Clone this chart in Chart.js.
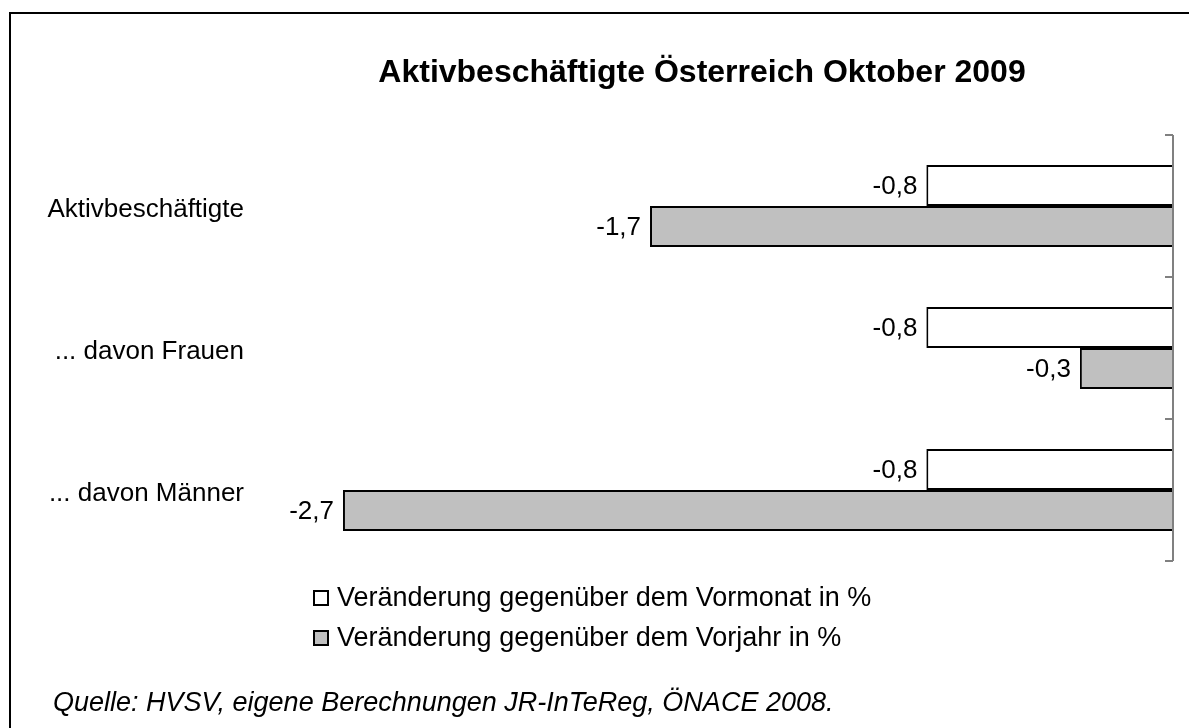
<!DOCTYPE html>
<html>
<head>
<meta charset="utf-8">
<script src="https://cdn.jsdelivr.net/npm/chart.js@4"></script>
<style>
  body { margin: 0; background: #fff; }
  canvas { display: block; }
</style>
</head>
<body>
<canvas id="chart" width="1189" height="728"></canvas>
<script>
// Chart data
const titleText = "Aktivbeschäftigte Österreich Oktober 2009";
const sourceText = "Quelle: HVSV, eigene Berechnungen JR-InTeReg, ÖNACE 2008.";
const categories = ["Aktivbeschäftigte", "... davon Frauen", "... davon Männer"];
const seriesNames = ["Veränderung gegenüber dem Vormonat in %", "Veränderung gegenüber dem Vorjahr in %"];
const vormonat = [-0.8, -0.8, -0.8];
const vorjahr = [-1.7, -0.3, -2.7];

const FONT = "'Liberation Sans', Arial, sans-serif";

// format like "-0,8"
function fmt(v) {
    return v.toFixed(1).replace(".", ",");
}

// draws frame, title, right axis, value labels, legend and source
const extras = {
    id: "extras",
    beforeDraw(chart) {
        const ctx = chart.ctx;
        ctx.save();
        ctx.strokeStyle = "#000";
        ctx.lineWidth = 2;
        ctx.beginPath();
        ctx.moveTo(chart.width, 13);
        ctx.lineTo(10, 13);
        ctx.lineTo(10, chart.height);
        ctx.stroke();
        ctx.restore();
    },
    afterDraw(chart) {
        const ctx = chart.ctx;
        const area = chart.chartArea;
        const y = chart.scales.y;
        ctx.save();

        // title
        ctx.fillStyle = "#000";
        ctx.font = "bold 32px " + FONT;
        ctx.textAlign = "center";
        ctx.textBaseline = "alphabetic";
        ctx.fillText(titleText, 702, 82);

        // right axis with inner tick marks
        ctx.strokeStyle = "#808080";
        ctx.lineWidth = 2;
        ctx.beginPath();
        ctx.moveTo(area.right + 1, area.top);
        ctx.lineTo(area.right + 1, area.bottom);
        const step = y.getPixelForValue(1) - y.getPixelForValue(0);
        for (let i = 0; i <= categories.length; i++) {
            const ty = Math.round(y.getPixelForValue(i) - step / 2);
            ctx.moveTo(area.right - 7, ty);
            ctx.lineTo(area.right + 1, ty);
        }
        ctx.stroke();

        // value labels left of each bar
        ctx.fillStyle = "#000";
        ctx.font = "26px " + FONT;
        ctx.textAlign = "right";
        ctx.textBaseline = "middle";
        chart.data.datasets.forEach((ds, di) => {
            chart.getDatasetMeta(di).data.forEach((bar, i) => {
                ctx.fillText(fmt(ds.data[i]), bar.x - 9, bar.y + 1);
            });
        });

        // legend, stacked
        ctx.textAlign = "left";
        ctx.font = "27px " + FONT;
        const legendY = [598, 638];
        chart.data.datasets.forEach((ds, di) => {
            const ly = legendY[di];
            ctx.fillStyle = ds.backgroundColor;
            ctx.fillRect(314, ly - 7, 14, 14);
            ctx.strokeStyle = "#000";
            ctx.lineWidth = 2;
            ctx.strokeRect(314, ly - 7, 14, 14);
            ctx.fillStyle = "#000";
            ctx.fillText(ds.label, 337, ly + 1);
        });

        // source
        ctx.font = "italic 27px " + FONT;
        ctx.fillText(sourceText, 53, 703);
        ctx.restore();
    }
};

const ctx = document.getElementById("chart").getContext("2d");
const chart = new Chart(ctx, {
    type: "bar",
    data: {
        labels: categories,
        datasets: [
            {
                label: seriesNames[0],
                data: vormonat,
                backgroundColor: "#ffffff",
                borderColor: "#000000",
                borderWidth: 2
            },
            {
                label: seriesNames[1],
                data: vorjahr,
                backgroundColor: "#c0c0c0",
                borderColor: "#000000",
                borderWidth: 2
            }
        ]
    },
    options: {
        indexAxis: "y",
        responsive: false,
        animation: false,
        layout: { padding: { top: 135, bottom: 167, left: 0, right: 17 } },
        datasets: { bar: { categoryPercentage: 0.578, barPercentage: 1 } },
        plugins: {
            legend: { display: false },
            title: { display: false },
            tooltip: { enabled: false }
        },
        scales: {
            x: {
                type: "linear",
                min: -2.98,
                max: 0,
                display: false
            },
            y: {
                position: "left",
                grid: { display: false, drawTicks: false },
                border: { display: false },
                ticks: {
                    color: "#000",
                    padding: 13,
                    labelOffset: 4,
                    font: { family: FONT, size: 26 }
                },
                afterFit(scale) {
                    scale.width = 257;
                }
            }
        }
    },
    plugins: [extras]
});
</script>
</body>
</html>
